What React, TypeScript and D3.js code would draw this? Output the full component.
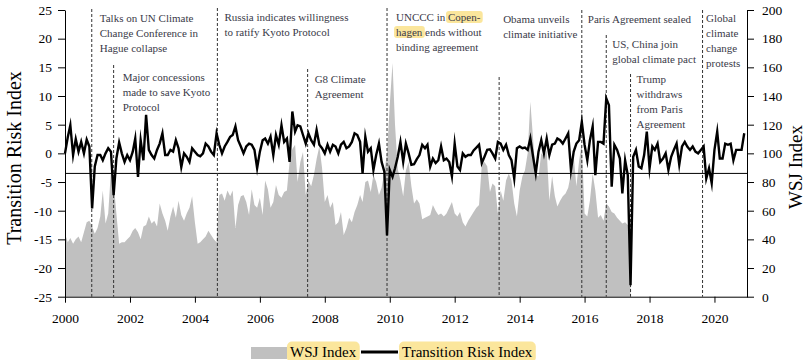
import { useEffect, useRef } from "react";
import * as d3 from "d3";

// monthly values, Jan 2000 onward
const riskIndex = [
  // 2000
  0, 2.8, 4.9, -0.3, 2.5, 0.3, 2.0, 0.0, 2.4, 1.2, -9.6, -2.3,
  // 2001
  -0.3, -0.3, -1.2, 0.0, 0.9, 0.3, -7.3, -0.9, 1.9, 0.0, -1.5, -0.3,
  // 2002
  -1.2, 0.3, 2.6, -4.1, 2.3, -1.2, 6.7, 0.6, -0.3, -0.9, 0.6, 1.7,
  // 2003
  3.5, -0.3, -0.3, 0.6, 0.3, 2.3, 0.9, -2.4, 0.0, -0.6, -1.5, 0.9,
  // 2004
  0.3, -0.3, -0.5, 0.0, 1.7, 1.2, 0.3, -0.3, 3.5, 1.5, 0.0, 1.2,
  // 2005
  2.0, 2.9, 3.2, 4.7, 2.3, 1.2, 0.0, 1.2, 1.7, 1.5, 0.6, -2.6,
  // 2006
  0.3, 2.3, 2.6, 1.7, 2.9, -0.3, 3.2, 1.5, 4.9, 2.0, 2.6, -1.5,
  // 2007
  7.3, 3.8, 4.9, 4.7, 3.2, 1.7, 3.5, 2.3, 1.5, 4.1, 1.5, 0.9,
  // 2008
  0.0, 1.5, 0.3, 1.5, 1.2, 0.0, 1.5, 2.0, 0.9, 1.2, 2.0, 3.5,
  // 2009
  3.2, 2.0, -3.5, 2.9, 0.3, 0.9, -2.9, -0.3, 1.7, -1.5, -3.2, -14.3,
  // 2010
  -2.9, -4.1, -2.6, -0.6, 2.0, -1.5, 1.7, 0.0, -2.0, -1.9, -1.0, -0.3,
  // 2011
  1.5, 0.9, 1.5, -2.3, -0.9, -1.7, -1.2, 1.2, -1.2, -0.9, -1.5, -4.0,
  // 2012
  1.7, -2.3, -2.9, 0.0, -0.6, -0.3, -0.3, 0.5, 1.0, 1.5, -1.7, -0.6,
  // 2013
  0.6, 0.7, 0.0, -0.9, 2.0, 1.7, 0.6, 1.5, -0.3, -1.2, -4.4, 0.9,
  // 2014
  1.2, 0.9, 1.0, 0.6, 2.6, -0.6, -3.5, 0.3, 2.3, 0.0, 2.6, -0.3,
  // 2015
  1.5, 1.7, 2.6, 2.3, 1.7, 2.6, 3.5, -2.9, 0.3, 1.7, 2.3, 5.5,
  // 2016
  1.5, -1.2, 2.3, 4.7, -3.8, 2.0, 2.0, 1.7, 9.6, 8.4, -5.8, 1.5,
  // 2017
  0.6, -0.9, -7.0, -1.2, -3.8, -23.0, -0.6, 0.6, -2.3, -2.6, -0.3, 3.8,
  // 2018
  -2.6, 1.2, 0.6, 1.7, -1.5, -0.9, 0.0, -2.9, -0.6, 0.6, 1.7, -2.0,
  // 2019
  1.2, 2.0, 1.2, 0.6, 1.2, 0.3, 0.0, 0.6, 1.2, -4.4, -2.6, -5.2,
  // 2020
  0.6, 3.8, -0.9, -0.9, 1.7, 1.5, 1.7, -1.2, 0.6, 0.6, 0.6, 3.5,
];

const wsjIndex = [
  // 2000
  44, 38, 41, 37, 40, 42, 38, 45, 52, 53, 49, 44,
  // 2001
  48, 56, 74, 51, 58, 88, 80, 58, 37, 38, 38, 40,
  // 2002
  42, 46, 48, 45, 40, 49, 50, 56, 51, 53, 49, 65,
  // 2003
  58, 53, 46, 56, 63, 55, 67, 57, 53, 58, 62, 70,
  // 2004
  52, 37, 38, 40, 42, 46, 43, 40, 38, 71, 72, 67,
  // 2005
  74, 70, 74, 48, 64, 70, 71, 66, 57, 75, 64, 62,
  // 2006
  69, 57, 81, 75, 62, 66, 78, 71, 69, 73, 74, 94,
  // 2007
  103, 106, 80, 94, 101, 71, 81, 77, 85, 96, 105, 90,
  // 2008
  66, 71, 62, 66, 50, 52, 59, 43, 48, 55, 52, 59,
  // 2009
  64, 71, 66, 80, 81, 73, 85, 80, 71, 76, 87, 100,
  // 2010
  134, 163, 120, 89, 81, 70, 88, 94, 77, 65, 68, 65,
  // 2011
  54, 55, 56, 57, 64, 60, 57, 58, 56, 58, 62, 66,
  // 2012
  58, 56, 59, 52, 49, 53, 56, 59, 62, 64, 92, 94,
  // 2013
  91, 73, 79, 77, 58, 74, 67, 81, 86, 81, 65, 56,
  // 2014
  74, 84, 88, 100, 136, 110, 85, 84, 100, 98, 102, 67,
  // 2015
  84, 70, 63, 67, 70, 72, 76, 86, 98, 77, 95, 107,
  // 2016
  58, 56, 67, 86, 74, 55, 57, 53, 65, 63, 59, 58,
  // 2017
  55, 53, 51, 52, 50, 53,
];

const xTickYears = [2000, 2002, 2004, 2006, 2008, 2010, 2012, 2014, 2016, 2018, 2020];
const leftTicks = [-25, -20, -15, -10, -5, 0, 5, 10, 15, 20, 25];
const rightTicks = [0, 20, 40, 60, 80, 100, 120, 140, 160, 180, 200];
const riskLevel = -3.5;

const eventDates = [
  "2000-10-28", "2001-07-01", "2004-09-10", "2007-06-22", "2009-12-01",
  "2013-05-15", "2015-12-01", "2016-09-01", "2017-06-01", "2019-08-20",
];
// [brackets] mark highlighted words
const eventLabels = [
  ["Talks on UN Climate", "Change Conference in", "Hague collapse"],
  ["Major concessions", "made to save Kyoto", "Protocol"],
  ["Russia indicates willingness", "to ratify Kyoto Protocol"],
  ["G8 Climate", "Agreement"],
  ["UNCCC in [Copen-]", "[hagen] ends without", "binding agreement"],
  ["Obama unveils", "climate initiative"],
  ["Paris Agreement sealed"],
  ["US, China join", "global climate pact"],
  ["Trump", "withdraws", "from Paris", "Agreement"],
  ["Global", "climate", "change", "protests"],
];
// dashed line top, text offset, first baseline
const eventLayout = [
  { top: 9, dx: 8, y: 22 },
  { top: 65, dx: 9, y: 81 },
  { top: 8, dx: 7, y: 20.5 },
  { top: 69, dx: 7, y: 83 },
  { top: 8, dx: 9, y: 21 },
  { top: 77, dx: 4, y: 22.5 },
  { top: 10, dx: 6, y: 22.5 },
  { top: 35, dx: 6, y: 47.5 },
  { top: 74, dx: 6, y: 82.5 },
  { top: 10, dx: 3.5, y: 21.5 },
];

const FONT = "'Liberation Serif', 'Times New Roman', serif";
const HIGHLIGHT = "#fbe69c";

export default function App() {
  const ref = useRef<SVGSVGElement>(null);

  useEffect(() => {
    const svg = d3.select(ref.current);
    svg.selectAll("*").remove();

    const left = 65, right = 747, top = 10, bottom = 296.7;
    const month = (i: number) => new Date(2000, i, 1);

    const x = d3.scaleTime().domain([new Date(2000, 0, 1), new Date(2021, 0, 1)]).range([left, right]);
    const yL = d3.scaleLinear().domain([-25, 25]).range([bottom, top]);
    const yR = d3.scaleLinear().domain([0, 200]).range([bottom, top]);

    // grey WSJ area
    const area = d3
      .area<number>()
      .x((d, i) => x(month(i)))
      .y0(yR(0))
      .y1((d) => yR(d));
    svg.append("path").attr("d", area(wsjIndex)).attr("fill", "#c0c0c0");

    // reference level
    svg
      .append("line")
      .attr("x1", left)
      .attr("x2", right)
      .attr("y1", yL(riskLevel))
      .attr("y2", yL(riskLevel))
      .attr("stroke", "#000")
      .attr("stroke-width", 1);

    // event lines + labels
    const parse = d3.timeParse("%Y-%m-%d");
    const hl: SVGTSpanElement[] = [];
    eventDates.forEach((ds, k) => {
      const ex = x(parse(ds) as Date);
      const lay = eventLayout[k];
      svg
        .append("line")
        .attr("x1", ex)
        .attr("x2", ex)
        .attr("y1", lay.top)
        .attr("y2", bottom)
        .attr("stroke", "#333")
        .attr("stroke-width", 1)
        .attr("stroke-dasharray", "3,2");
      eventLabels[k].forEach((ln, j) => {
        const t = svg
          .append("text")
          .attr("x", ex + lay.dx)
          .attr("y", lay.y + j * 15)
          .attr("font-size", 11)
          .attr("fill", "#3a3a48");
        ln.split(/(\[[^\]]*\])/).forEach((part) => {
          if (!part) return;
          if (part.startsWith("[")) {
            const ts = t.append("tspan").text(part.slice(1, -1));
            hl.push(ts.node() as SVGTSpanElement);
          } else {
            t.append("tspan").text(part);
          }
        });
      });
    });

    // risk index line
    const line = d3
      .line<number>()
      .x((d, i) => x(month(i)))
      .y((d) => yL(d));
    svg
      .append("path")
      .attr("d", line(riskIndex))
      .attr("fill", "none")
      .attr("stroke", "#000")
      .attr("stroke-width", 2.4)
      .attr("stroke-linejoin", "miter")
      .attr("stroke-miterlimit", 10);

    // axes
    const styleAxis = (g: any) => {
      g.attr("font-family", FONT).attr("font-size", 13.5);
      g.selectAll("path, line").attr("stroke", "#000");
      g.selectAll("text").attr("fill", "#000");
    };
    svg
      .append("g")
      .attr("transform", `translate(${left},0)`)
      .call(d3.axisLeft(yL).tickValues(leftTicks).tickSize(7).tickSizeOuter(0).tickPadding(6).tickFormat((d) => String(d)))
      .call(styleAxis);
    svg
      .append("g")
      .attr("transform", `translate(${right},0)`)
      .call(d3.axisRight(yR).tickValues(rightTicks).tickSize(7).tickSizeOuter(0).tickPadding(8).tickFormat((d) => String(d)))
      .call(styleAxis);
    svg
      .append("g")
      .attr("transform", `translate(0,${bottom})`)
      .call(
        d3
          .axisBottom(x)
          .tickValues(xTickYears.map((yr) => new Date(yr, 0, 1)))
          .tickSize(6)
          .tickSizeOuter(0)
          .tickPadding(11)
          .tickFormat((d) => d3.timeFormat("%Y")(d as Date))
      )
      .call(styleAxis);

    // axis titles
    svg
      .append("text")
      .attr("transform", "translate(21,158) rotate(-90)")
      .attr("text-anchor", "middle")
      .attr("font-size", 20)
      .text("Transition Risk Index");
    svg
      .append("text")
      .attr("transform", "translate(802,167) rotate(-90)")
      .attr("text-anchor", "middle")
      .attr("font-size", 19)
      .text("WSJ Index");

    // legend
    const lg = svg.append("g");
    lg.append("rect").attr("x", 251).attr("y", 347).attr("width", 36).attr("height", 12).attr("fill", "#c0c0c0");
    const l1 = lg.append("text").attr("x", 290).attr("y", 357).attr("font-size", 15).text("WSJ Index");
    lg.append("line").attr("x1", 361).attr("x2", 398).attr("y1", 352).attr("y2", 352).attr("stroke", "#000").attr("stroke-width", 3);
    const l2 = lg.append("text").attr("x", 402).attr("y", 357).attr("font-size", 15).text("Transition Risk Index");

    // yellow highlight boxes behind marked words
    const boxIt = (el: SVGGraphicsElement, parent: SVGElement, px: number, py: number, r: number) => {
      const b = el.getBBox();
      d3.select(parent)
        .insert("rect", ":first-child")
        .attr("x", b.x - px)
        .attr("y", b.y - py)
        .attr("width", b.width + 2 * px)
        .attr("height", b.height + 2 * py)
        .attr("rx", r)
        .attr("fill", HIGHLIGHT);
    };
    hl.forEach((ts) => boxIt(ts, ref.current as SVGSVGElement, 2, 0, 3));
    boxIt(l1.node() as SVGGraphicsElement, lg.node() as SVGElement, 3, 2.5, 5);
    boxIt(l2.node() as SVGGraphicsElement, lg.node() as SVGElement, 3, 2.5, 5);
  }, []);

  return (
    <svg
      ref={ref}
      width={808}
      height={360}
      style={{ position: "absolute", left: 0, top: 0, fontFamily: FONT, background: "#fff" }}
    />
  );
}
